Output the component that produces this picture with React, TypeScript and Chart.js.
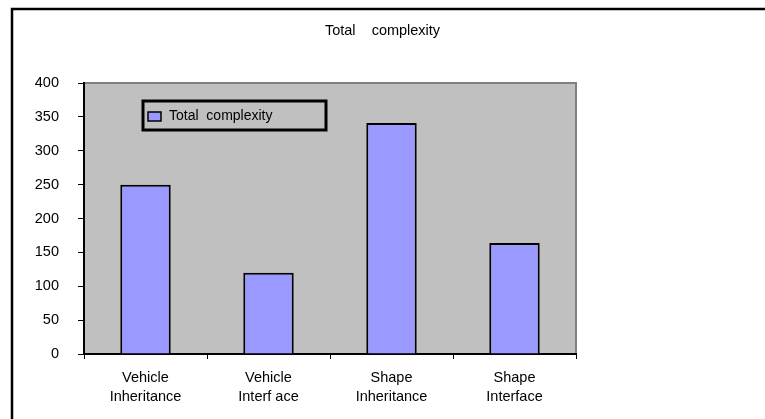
import React, { useEffect, useRef } from "react";
import { Chart, registerables } from "chart.js";

Chart.register(...registerables);

const chartTitle = "Total    complexity";
const seriesLabel = "Total  complexity";
const categories: string[][] = [
  ["Vehicle", "Inheritance"],
  ["Vehicle", "Interf ace"],
  ["Shape", "Inheritance"],
  ["Shape", "Interface"],
];
const totalComplexity = [250, 120, 341, 164];
const yTicks = [0, 50, 100, 150, 200, 250, 300, 350, 400];

const FONT = "Liberation Sans, Arial, Helvetica, sans-serif";

const decorPlugin = {
  id: "decor",
  beforeDraw(chart: any) {
    const { ctx, chartArea } = chart;
    ctx.save();
    ctx.fillStyle = "#ffffff";
    ctx.fillRect(0, 0, chart.width, chart.height);
    // outer frame (top & left)
    ctx.strokeStyle = "#000";
    ctx.lineWidth = 2.5;
    ctx.beginPath();
    ctx.moveTo(12, chart.height);
    ctx.lineTo(12, 9);
    ctx.lineTo(chart.width, 9);
    ctx.stroke();
    // plot background
    ctx.fillStyle = "#C0C0C0";
    ctx.fillRect(chartArea.left, chartArea.top, chartArea.right - chartArea.left, chartArea.bottom - chartArea.top);
    ctx.strokeStyle = "#808080";
    ctx.lineWidth = 2;
    ctx.beginPath();
    ctx.moveTo(chartArea.left, chartArea.top);
    ctx.lineTo(chartArea.right, chartArea.top);
    ctx.lineTo(chartArea.right, chartArea.bottom);
    ctx.stroke();
    // title
    ctx.fillStyle = "#000";
    ctx.font = `14.5px ${FONT}`;
    ctx.textAlign = "center";
    ctx.textBaseline = "middle";
    ctx.fillText(chartTitle, chart.width / 2, 31);
    ctx.restore();
  },
  afterDraw(chart: any) {
    const { ctx, chartArea } = chart;
    const ds = chart.data.datasets[0];
    const x0 = chartArea.left + 59;
    const y0 = chartArea.top + 18;
    ctx.save();
    ctx.strokeStyle = "#000";
    ctx.lineWidth = 3;
    ctx.strokeRect(x0, y0, 183, 29);
    // swatch
    ctx.fillStyle = ds.backgroundColor;
    ctx.fillRect(x0 + 5, y0 + 11, 13, 9);
    ctx.lineWidth = 1.5;
    ctx.strokeRect(x0 + 5, y0 + 11, 13, 9);
    ctx.fillStyle = "#000";
    ctx.font = `14px ${FONT}`;
    ctx.textAlign = "left";
    ctx.textBaseline = "middle";
    ctx.fillText(ds.label, x0 + 26, y0 + 15);
    ctx.restore();
  },
};

export default function App() {
  const ref = useRef<HTMLCanvasElement | null>(null);
  useEffect(() => {
    document.body.style.margin = "0";
    if (!ref.current) return;
    const chart = new Chart(ref.current, {
      type: "bar",
      data: {
        labels: categories,
        datasets: [
          {
            label: seriesLabel,
            data: totalComplexity,
            backgroundColor: "#9999FF",
            borderColor: "#000000",
            borderWidth: 2,
            barPercentage: 0.41,
            categoryPercentage: 1,
          },
        ],
      },
      options: {
        responsive: false,
        animation: false,
        devicePixelRatio: 1,
        layout: { padding: { left: 0, right: 189, top: 83, bottom: 0 } },
        plugins: {
          legend: { display: false },
          title: { display: false },
          tooltip: { enabled: false },
        },
        scales: {
          x: {
            grid: {
              display: true,
              drawOnChartArea: false,
              drawTicks: true,
              tickLength: 5,
              tickColor: "#000",
              offset: true,
            },
            border: { display: true, color: "#000", width: 2 },
            ticks: {
              color: "#000",
              font: { family: FONT, size: 14.5, lineHeight: 1.3 },
              padding: 10,
              maxRotation: 0,
              autoSkip: false,
            },
            afterFit(scale: any) {
              scale.height = 65;
            },
          },
          y: {
            min: 0,
            max: 400,
            afterBuildTicks(scale: any) {
              scale.ticks = yTicks.map((v) => ({ value: v }));
            },
            grid: {
              display: true,
              drawOnChartArea: false,
              drawTicks: true,
              tickLength: 6,
              tickColor: "#000",
            },
            border: { display: true, color: "#000", width: 2 },
            ticks: {
              color: "#000",
              font: { family: FONT, size: 14.5 },
              padding: 19,
            },
            afterFit(scale: any) {
              scale.width = 84;
            },
          },
        },
      },
      plugins: [decorPlugin],
    });
    return () => chart.destroy();
  }, []);
  return (
    <div style={{ width: 765, height: 419 }}>
      <canvas ref={ref} width={765} height={419} style={{ display: "block" }} />
    </div>
  );
}
